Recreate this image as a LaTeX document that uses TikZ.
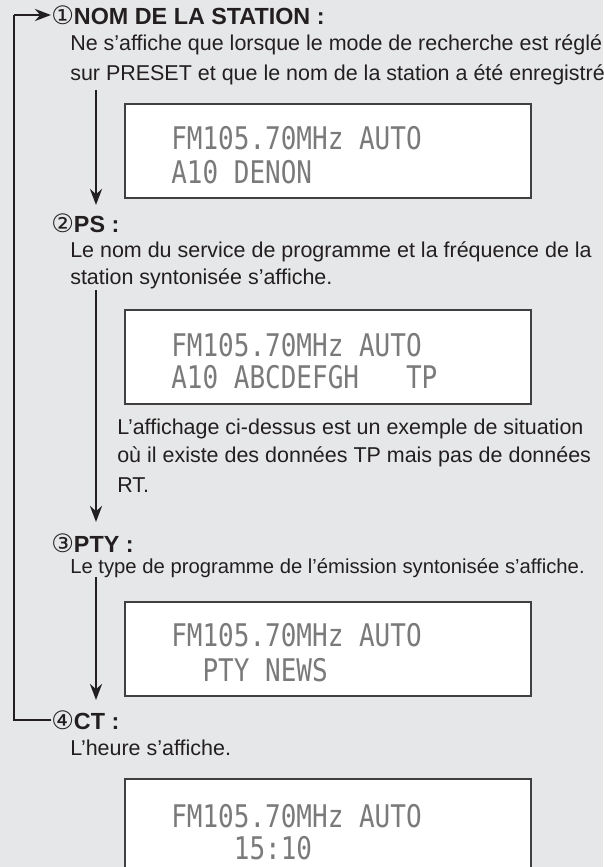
\documentclass[tikz,border=0pt]{standalone}
\usepackage{fontspec}
\setmainfont{Liberation Sans}
\newfontfamily\circfont{DejaVu Sans}
\newfontfamily\lcdfont{DejaVu Sans Mono}
\usetikzlibrary{arrows.meta}
\definecolor{bg}{HTML}{E6E7E8}
\definecolor{lcd}{HTML}{7A7A7A}
\definecolor{txt}{HTML}{231F20}
\newcommand{\circn}[1]{{\fontsize{19}{19}\circfont\mdseries #1}}
\newcommand{\lsp}[1]{\hspace*{#1\fontcharwd\font`0}}
\begin{document}
\begin{tikzpicture}[x=0.75pt,y=-0.75pt,
  txtn/.style={anchor=west,inner sep=0pt,text=txt,font=\fontsize{16.1}{19}\selectfont},
  small/.style={anchor=west,inner sep=0pt,text=txt,font=\fontsize{15.2}{18}\selectfont},
  head/.style={anchor=west,inner sep=0pt,text=txt,font=\fontsize{17.5}{20}\selectfont\bfseries},
  lcdbox/.style={draw=black!75,line width=0.9pt,fill=white},
  lcdt/.style={anchor=west,inner sep=0pt,text=lcd,font=\fontsize{19.5}{22}\lcdfont,yscale=1.2},
  flow/.style={line width=2.2pt,draw=txt,-{Stealth[length=12pt,width=9pt]}},
  loop/.style={line width=2.2pt,draw=txt}]
\fill[bg] (0,0) rectangle (603,867);
\useasboundingbox (0,0) rectangle (603,867);
\begin{scope}
\clip (0,0) rectangle (603,867);
% headings
\node[head] (h1) at (51,15) {\circn{①}NOM DE LA STATION :};
\node[head] (h2) at (51,223) {\circn{②}PS :};
\node[head] (h3) at (51,543) {\circn{③}PTY :};
\node[head] (h4) at (51,720) {\circn{④}CT :};
% texts
\node[txtn] (t1a) at (70,45) {Ne s’affiche que lorsque le mode de recherche est réglé};
\node[txtn] (t1b) at (70,75) {sur PRESET et que le nom de la station a été enregistré.};
\node[txtn] (t2a) at (70,252) {Le nom du service de programme et la fréquence de la};
\node[txtn] (t2b) at (70,279) {station syntonisée s’affiche.};
\node[txtn] (t2c) at (117,429) {L’affichage ci-dessus est un exemple de situation};
\node[txtn] (t2d) at (117,457) {où il existe des données TP mais pas de données};
\node[txtn] (t2e) at (117,485) {RT.};
\node[small] (t3a) at (70,568) {Le type de programme de l’émission syntonisée s’affiche.};
\node[txtn] (t4a) at (70,748) {L’heure s’affiche.};
% LCD boxes
\draw[lcdbox] (125,104) rectangle (531,198);
\draw[lcdbox] (125,310) rectangle (531,404);
\draw[lcdbox] (125,602) rectangle (531,696);
\draw[lcdbox] (125,779) rectangle (531,900);
\node[lcdt] (d1a) at (171,138) {FM105.70MHz AUTO};
\node[lcdt] (d1b) at (171,172) {A10 DENON};
\node[lcdt] (d2a) at (171,345) {FM105.70MHz AUTO};
\node[lcdt] (d2b) at (171,377) {A10 ABCDEFGH\lsp{3}TP};
\node[lcdt] (d3a) at (171,635) {FM105.70MHz AUTO};
\node[lcdt] (d3b) at (171,670) {\lsp{2}PTY NEWS};
\node[lcdt] (d4a) at (171,816) {FM105.70MHz AUTO};
\node[lcdt] (d4b) at (171,848) {\lsp{4}15:10};
% arrows
\coordinate (a1s) at (96,90);  \coordinate (a1e) at (96,205);
\coordinate (a2s) at (96,290); \coordinate (a2e) at (96,522);
\coordinate (a3s) at (96,577); \coordinate (a3e) at (96,700);
\draw[flow] (a1s) -- (a1e);
\draw[flow] (a2s) -- (a2e);
\draw[flow] (a3s) -- (a3e);
\coordinate (lb) at (14,720);
\coordinate (lt) at (14,15);
\draw[loop] (h4.west) -- (lb) -- (lt);
\draw[flow] (lt) -- (h1.west);
\end{scope}
\end{tikzpicture}
\end{document}
